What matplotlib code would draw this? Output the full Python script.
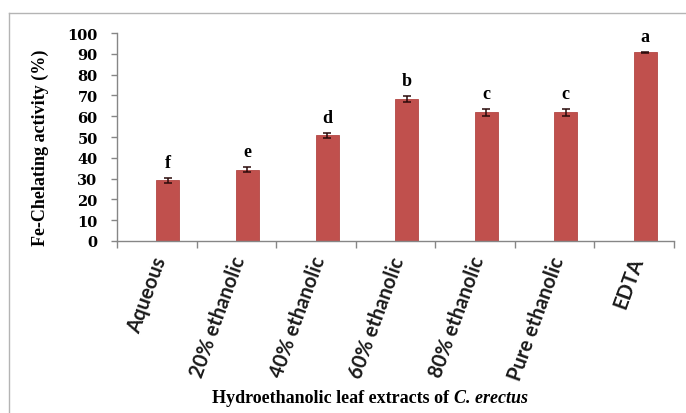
import matplotlib
matplotlib.use("Agg")
import matplotlib.pyplot as plt
from matplotlib.lines import Line2D
from matplotlib.offsetbox import TextArea, HPacker, AnnotationBbox
import numpy as np

# Fe-chelating activity of hydroethanolic leaf extracts (mean ± SD)
categories = ["Aqueous", "20% ethanolic", "40% ethanolic", "60% ethanolic",
              "80% ethanolic", "Pure ethanolic", "EDTA"]
activity = [29.2, 34.3, 50.8, 68.1, 61.8, 61.8, 90.7]
errors = [1.3, 1.3, 1.1, 1.4, 1.7, 1.7, 0.3]
letters = ["f", "e", "d", "b", "c", "c", "a"]
yticks = [0, 10, 20, 30, 40, 50, 60, 70, 80, 90, 100]

W, H = 686, 414
fig = plt.figure(figsize=(W / 100, H / 100), dpi=100)
fig.patch.set_facecolor("white")

# outer chart-area frame (left and top edges visible)
frame_col = "#B4B4B4"
fig.add_artist(Line2D([9 / W, 9 / W], [0, 1 - 14 / H], transform=fig.transFigure,
                      color=frame_col, lw=1.0))
fig.add_artist(Line2D([9 / W, 1], [1 - 14 / H, 1 - 14 / H], transform=fig.transFigure,
                      color=frame_col, lw=1.0))

ax = fig.add_axes([117 / W, 1 - 242 / H, (674 - 117) / W, (242 - 34) / H])
n = len(categories)
ax.set_xlim(0, n)
ax.set_ylim(0, 100)

x = np.arange(n) + 0.5 + 0.14
bar_col = "#C0504D"
ax.bar(x, activity, width=0.29, color=bar_col, edgecolor="#B34744", linewidth=0.6, zorder=2)
ax.errorbar(x, activity, yerr=errors, fmt="none", ecolor="#2A0A0A",
            elinewidth=1.1, capsize=3.2, capthick=1.1, zorder=3)

for xi, v, e, lab in zip(x, activity, errors, letters):
    ax.annotate(lab, (xi, v + e), xytext=(0, 5), textcoords="offset points",
                ha="center", va="bottom", fontsize=13, fontweight="bold",
                family="Liberation Serif", color="black")

# spines
axis_col = "#868686"
for s in ["top", "right"]:
    ax.spines[s].set_visible(False)
for s in ["left", "bottom"]:
    ax.spines[s].set_color(axis_col)
    ax.spines[s].set_linewidth(1.0)

# y axis
ax.set_yticks(yticks)
ax.set_yticklabels([str(t) for t in yticks], family="DejaVu Serif",
                   fontweight="bold", fontsize=10.5)
ax.tick_params(axis="y", direction="out", length=4, width=1.0, color=axis_col, pad=10)

# x axis: tick marks at category boundaries, labels under each category
ax.set_xticks(np.arange(n + 1))
ax.set_xticklabels([])
ax.tick_params(axis="x", which="major", direction="out", length=5, width=1.0, color=axis_col)
ax.set_xticks(np.arange(n) + 0.5 - 0.07, minor=True)
ax.set_xticklabels(categories, minor=True, rotation=70, ha="right", va="top",
                   rotation_mode="anchor", family="Lato", fontweight="bold",
                   fontsize=14.5, color="#1a1a1a")
ax.tick_params(axis="x", which="minor", length=0, pad=9)

# axis titles
fig.text(40 / W, 1 - 148 / H, "Fe-Chelating activity (%)", rotation=90,
         ha="center", va="center", family="Liberation Serif", fontweight="bold",
         fontsize=13)

t1 = TextArea("Hydroethanolic leaf extracts of ",
              textprops=dict(family="Liberation Serif", fontweight="bold", fontsize=13))
t2 = TextArea("C. erectus",
              textprops=dict(family="Liberation Serif", fontweight="bold",
                             style="italic", fontsize=13))
box = HPacker(children=[t1, t2], align="baseline", pad=0, sep=0)
ab = AnnotationBbox(box, (370 / W, 1 - 399 / H), xycoords="figure fraction",
                    frameon=False, box_alignment=(0.5, 0.5))
fig.add_artist(ab)

fig.savefig("out.png", dpi=100, facecolor="white")
